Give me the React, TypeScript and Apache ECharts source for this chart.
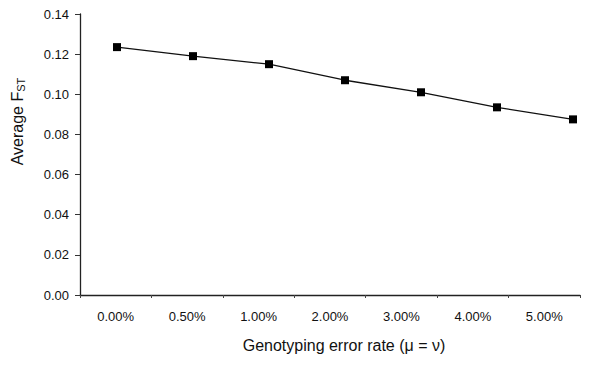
import React, { useEffect, useRef } from "react";
import * as echarts from "echarts";

const categories = ["0.00%", "0.50%", "1.00%", "2.00%", "3.00%", "4.00%", "5.00%"];
const fstValues = [0.1235, 0.119, 0.115, 0.107, 0.101, 0.0935, 0.0875];
const yTicks = { min: 0, max: 0.14, interval: 0.02 };

export default function App() {
  const ref = useRef<HTMLDivElement>(null);
  useEffect(() => {
    const chart = echarts.init(ref.current!, null, { renderer: "svg" });
    const font = "'Liberation Sans', Arial, sans-serif";
    chart.setOption({
      animation: false,
      backgroundColor: "#fff",
      grid: { left: 80, right: 27, top: 14, bottom: 70 },
      xAxis: [
        {
          type: "category",
          data: categories,
          boundaryGap: true,
          axisLine: { onZero: false, lineStyle: { color: "#222", width: 1.3 } },
          axisTick: { show: true, length: 3, lineStyle: { color: "#444" } },
          axisLabel: { color: "#111", fontSize: 13, fontFamily: font, margin: 15 },
          name: "Genotyping error rate (\u03bc = \u03bd)",
          nameLocation: "middle",
          nameGap: 42,
          nameTextStyle: { color: "#111", fontSize: 16, fontFamily: font, padding: [0, 0, 0, 28] },
        },
        {
          type: "value",
          show: false,
          min: -0.487,
          max: 6.092,
          position: "bottom",
          axisLine: { onZero: false },
        },
      ],
      yAxis: {
        type: "value",
        min: yTicks.min,
        max: yTicks.max,
        interval: yTicks.interval,
        splitLine: { show: false },
        axisLine: { show: true, onZero: false, lineStyle: { color: "#222", width: 1.3 } },
        axisTick: { show: true, length: 5, lineStyle: { color: "#333" } },
        axisLabel: {
          color: "#111",
          fontSize: 13,
          fontFamily: font,
          margin: 11,
          formatter: (v: number) => v.toFixed(2),
        },
        name: "Average F{sub|ST}",
        nameLocation: "middle",
        nameRotate: 90,
        nameGap: 54,
        nameTextStyle: {
          color: "#111",
          fontSize: 16,
          fontFamily: font,
          padding: [0, 0, 0, 66],
          rich: {
            sub: { fontSize: 11, fontFamily: font, color: "#111", verticalAlign: "bottom", padding: [7, 0, 0, 0] },
          },
        },
      },
      series: [
        {
          type: "line",
          xAxisIndex: 1,
          data: fstValues.map((v, i) => [i, v]),
          symbol: "rect",
          symbolSize: 8,
          lineStyle: { color: "#111", width: 1.3 },
          itemStyle: { color: "#000" },
        },
      ],
    });
    return () => chart.dispose();
  }, []);
  return <div ref={ref} style={{ width: 607, height: 365, position: "absolute", left: 0, top: 0 }} />;
}
